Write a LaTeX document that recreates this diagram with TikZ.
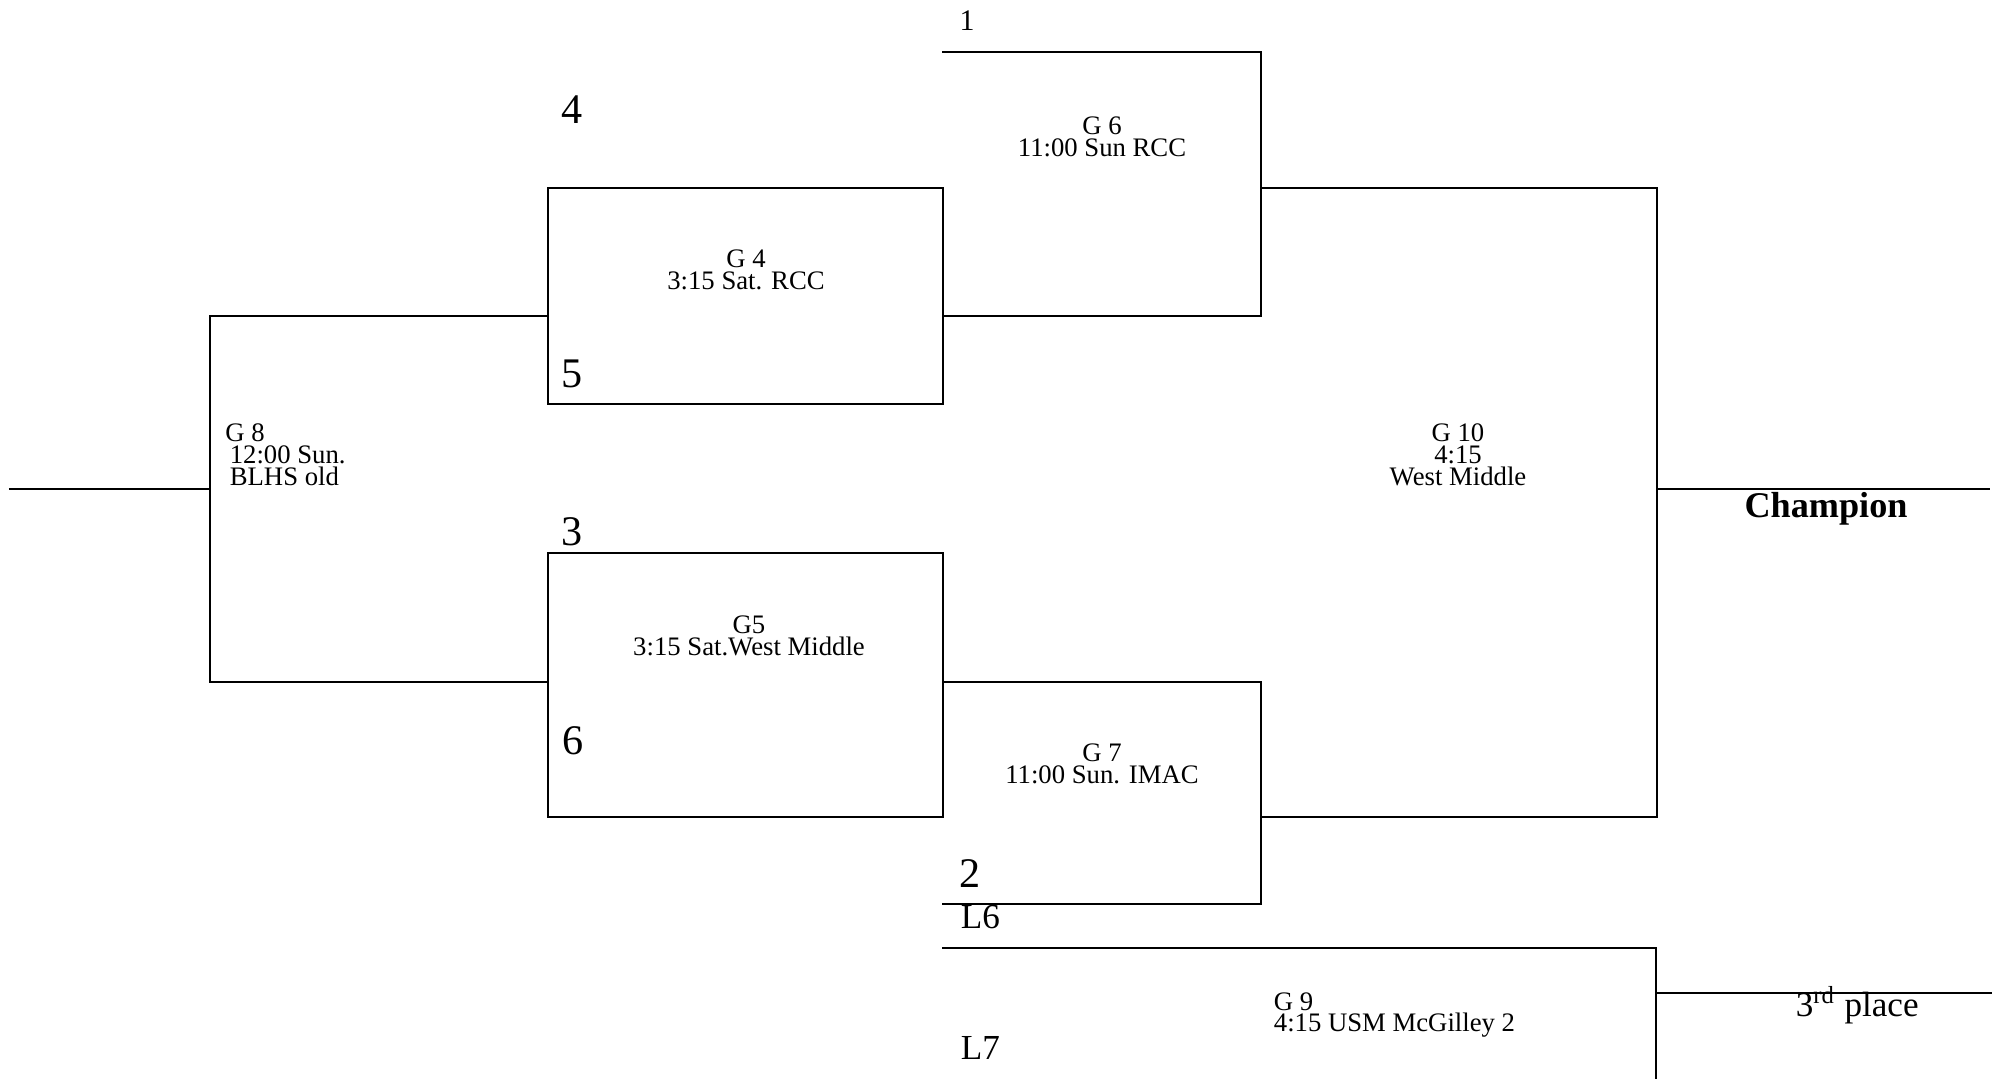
\documentclass[tikz,border=0pt]{standalone}
\usepackage{fontspec}
\setmainfont{Liberation Serif}
\tikzset{
	game/.style={font=\fontsize{7.6}{6.2}\selectfont, align=center, inner sep=0pt},
	seed/.style={font=\fontsize{12}{14}\selectfont, inner sep=0pt, anchor=base},
	loser/.style={font=\fontsize{10}{12}\selectfont, inner sep=0pt, anchor=base west}
}
\begin{document}
\begin{tikzpicture}[line width=0.5pt]
	\useasboundingbox (0,0) rectangle (19.92,-10.79);
	% corners of the bracket
	\coordinate (O) at (0.09,-4.89);
	\coordinate (M) at (2.10,-4.89);
	\coordinate (A) at (2.10,-3.16);
	\coordinate (B) at (2.10,-6.82);
	\coordinate (C) at (5.48,-3.16);
	\coordinate (D) at (5.48,-6.82);
	\coordinate (E) at (5.48,-1.88);
	\coordinate (F) at (9.43,-4.04);
	\coordinate (G) at (5.48,-5.53);
	\coordinate (H) at (9.43,-8.17);
	\coordinate (P) at (9.42,-0.52);
	\coordinate (Q) at (12.61,-0.52);
	\coordinate (R) at (12.61,-3.16);
	\coordinate (S) at (9.43,-3.16);
	\coordinate (T) at (9.43,-6.82);
	\coordinate (U) at (12.61,-6.82);
	\coordinate (V) at (12.61,-9.04);
	\coordinate (W) at (9.42,-9.04);
	\coordinate (X) at (12.61,-1.88);
	\coordinate (Y) at (16.57,-1.88);
	\coordinate (Z) at (16.57,-8.17);
	\coordinate (K) at (12.61,-8.17);
	\coordinate (Y1) at (16.57,-4.89);
	\coordinate (Y2) at (19.90,-4.89);
	\coordinate (L) at (9.42,-9.48);
	\coordinate (N) at (16.56,-9.48);
	\coordinate (N1) at (16.56,-10.79);
	\coordinate (N2) at (16.56,-9.93);
	\coordinate (N3) at (19.92,-9.93);
	% lines
	\draw (O) -- (M);
	\draw (C) -- (A) -- (B) -- (D);
	\draw (E) rectangle (F);
	\draw (G) rectangle (H);
	\draw (P) -- (Q) -- (R) -- (S);
	\draw (T) -- (U) -- (V) -- (W);
	\draw (X) -- (Y) -- (Z) -- (K);
	\draw (Y1) -- (Y2);
	\draw (L) -- (N) -- (N1);
	\draw (N2) -- (N3);
	% games
	\node[game] (g4) at (7.46,-2.70) {G 4\\3:15 Sat. RCC};
	\node[game] (g5) at (7.49,-6.36) {G5\\3:15 Sat.West Middle};
	\node[game] (g6) at (11.02,-1.37) {G 6\\11:00 Sun RCC};
	\node[game] (g7) at (11.02,-7.64) {G 7\\11:00 Sun. IMAC};
	\node[game, align=left, anchor=west] (g8) at (2.245,-4.55) {G 8\\\,12:00 Sun.\\\,BLHS old};
	\node[game, align=left, anchor=west] (g9) at (12.73,-10.15) {G 9\\4:15 USM McGilley 2};
	\node[game] (g10) at (14.58,-4.55) {G 10\\4:15\\West Middle};
	% seeds
	\node[seed, font=\fontsize{8.5}{10}\selectfont] (s1) at (9.67,-0.30) {1};
	\node[seed] (s4) at (5.72,-1.23) {4};
	\node[seed] (s5) at (5.72,-3.87) {5};
	\node[seed] (s3) at (5.72,-5.45) {3};
	\node[seed] (s6) at (5.73,-7.54) {6};
	\node[seed] (s2) at (9.70,-8.87) {2};
	\node[loser] (l6) at (9.60,-9.28) {L6};
	\node[loser] (l7) at (9.60,-10.59) {L7};
	% places
	\node[font=\fontsize{10.3}{12}\selectfont\bfseries, inner sep=0pt, anchor=base] (champ) at (18.26,-5.17) {Champion};
	\node[loser] (third) at (17.95,-10.16) {3\textsuperscript{rd} place};
\end{tikzpicture}
\end{document}
